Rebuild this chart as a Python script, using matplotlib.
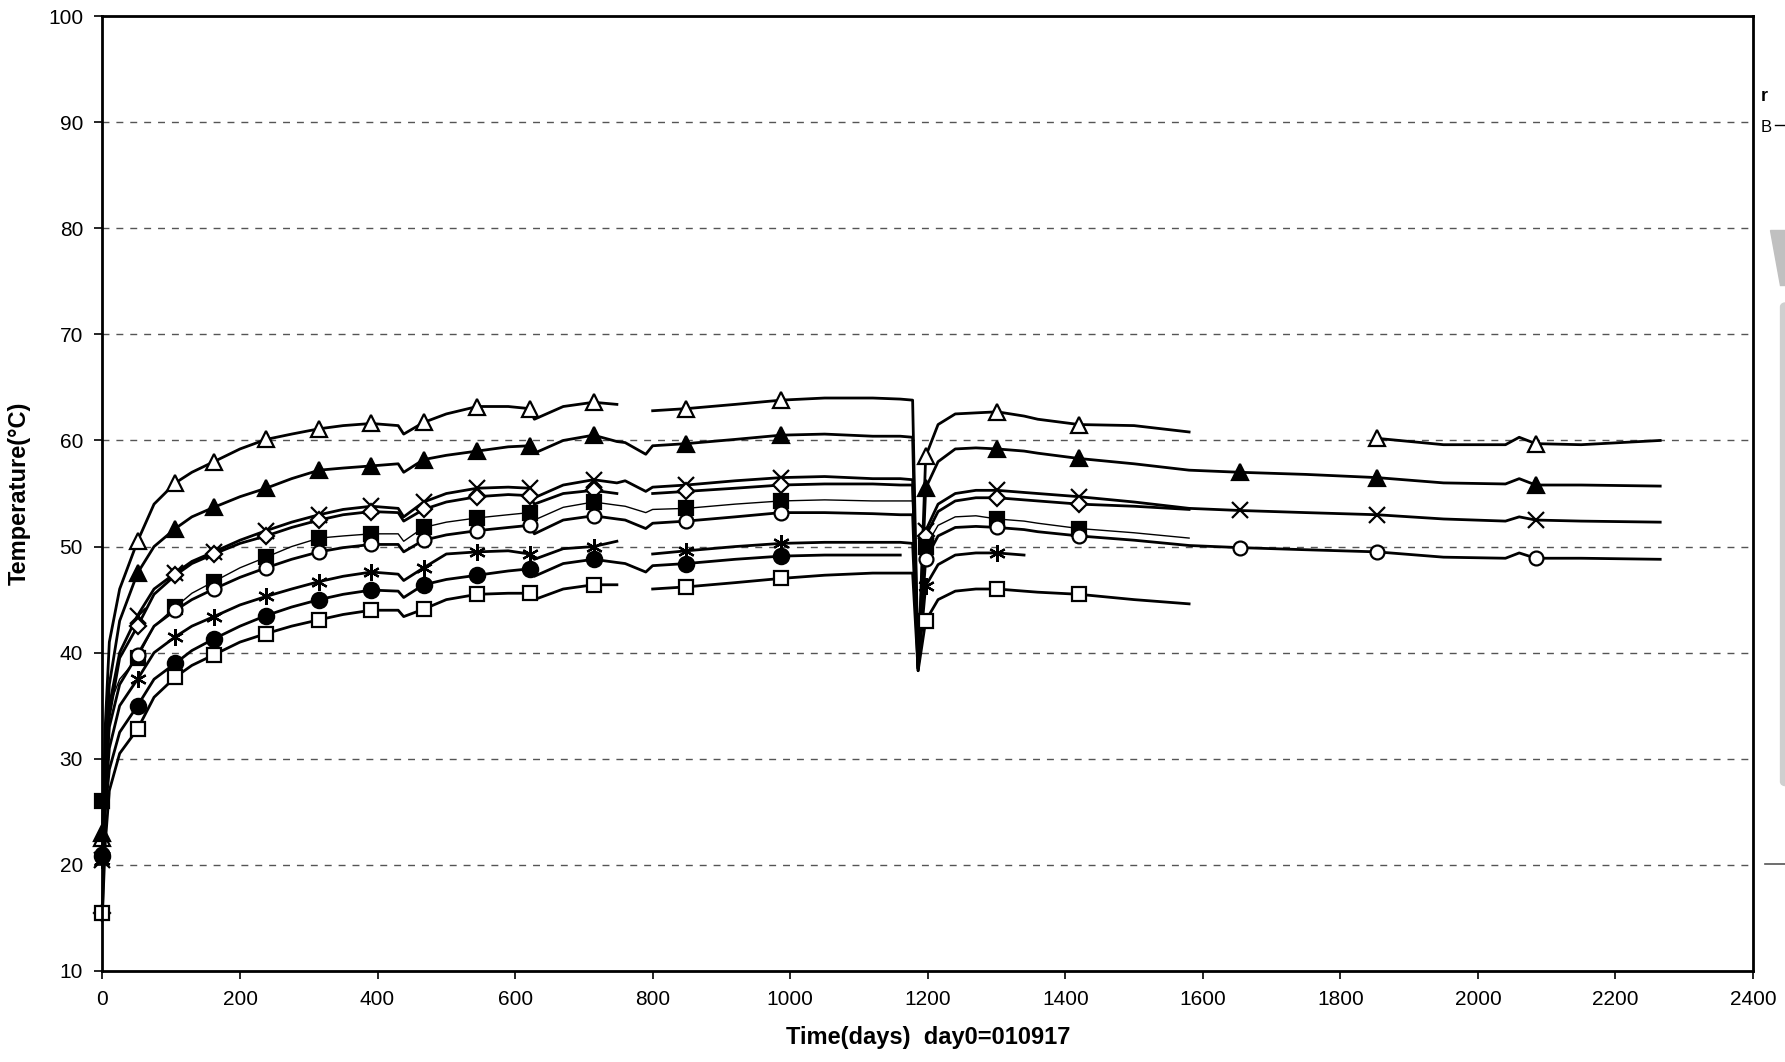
import numpy as np
import matplotlib.pyplot as plt
from matplotlib.patches import Polygon, FancyBboxPatch

nan = np.nan

# sampled days (shared x for every probe) and days where a marker is drawn
days = [0, 4, 10, 25, 51, 75, 106, 130, 162, 200, 238, 275, 315, 350, 391,
        430, 438, 467, 500, 545, 590, 621, 628, 670, 714, 748, 760, 790, 800,
        849, 920, 987, 1050, 1120, 1160, 1178, 1186, 1197, 1215, 1240, 1270,
        1301, 1340, 1360, 1420, 1500, 1580, 1654, 1750, 1853, 1950, 2040,
        2060, 2084, 2150, 2265]
mark_days = [0, 51, 106, 162, 238, 315, 391, 467, 545, 621, 714, 849, 987,
             1197, 1301, 1420, 1654, 1853, 2084]

tri_open = [22.5, 33, 41, 46, 50.5, 54, 56, 57, 58, 59.2, 60.1, 60.6, 61.1,
            61.4, 61.6, 61.4, 60.6, 61.7, 62.5, 63.2, 63.2, 63.0, 62.0, 63.2,
            63.6, 63.4, nan, nan, 62.8, 63.0, 63.4, 63.8, 64.0, 64.0, 63.9,
            63.8, 38.5, 58.5, 61.5, 62.5, 62.6, 62.7, 62.3, 62.0, 61.5, 61.4,
            60.8, nan, nan, 60.2, 59.6, 59.6, 60.3, 59.7, 59.6, 60.0]
tri_fill = [23, 30, 37, 43, 47.5, 50, 51.7, 52.8, 53.7, 54.7, 55.5, 56.4,
            57.2, 57.4, 57.6, 57.8, 57.0, 58.2, 58.6, 59.0, 59.4, 59.5, 58.8,
            60.0, 60.5, 59.9, 59.8, 58.7, 59.5, 59.7, 60.1, 60.5, 60.6, 60.4,
            60.4, 60.3, 38.3, 55.5, 58.0, 59.2, 59.3, 59.2, 59.0, 58.8, 58.3,
            57.8, 57.2, 57.0, 56.8, 56.5, 56.0, 55.9, 56.4, 55.8, 55.8, 55.7]
cross = [20.5, 28, 35, 40, 43.5, 46, 47.5, 48.6, 49.5, 50.6, 51.5, 52.3,
         53.0, 53.5, 53.8, 53.6, 52.8, 54.2, 55.0, 55.5, 55.6, 55.5, 54.6,
         55.8, 56.3, 56.0, 56.2, 55.2, 55.6, 55.8, 56.2, 56.5, 56.6, 56.4,
         56.4, 56.3, 38.5, 51.5, 54.0, 55.0, 55.3, 55.3, 55.1, 55.0, 54.7,
         54.2, 53.6, 53.4, 53.2, 53.0, 52.6, 52.4, 52.8, 52.5, 52.4, 52.3]
diamond = [15.5, 27, 34, 39.5, 42.5, 45.5, 47.3, 48.4, 49.3, 50.3, 51.0,
           51.8, 52.5, 53.0, 53.3, 53.2, 52.4, 53.5, 54.2, 54.7, 54.9, 54.8,
           54.0, 55.0, 55.3, 55.0, nan, nan, 55.0, 55.2, 55.5, 55.8, 55.9,
           55.9, 55.8, 55.8, 38.6, 51.0, 53.3, 54.3, 54.6, 54.6, 54.4, 54.3,
           54.0, 53.8, 53.5, nan, nan, nan, nan, nan, nan, nan, nan, nan]
sq_fill = [26, 30, 35, 37.5, 39.5, 42.5, 44.3, 45.6, 46.7, 48.0, 49.0, 50.0,
           50.8, 51.0, 51.2, 51.2, 50.5, 51.8, 52.3, 52.7, 53.0, 53.2, 52.5,
           53.7, 54.2, 53.9, 53.8, 53.2, 53.5, 53.6, 54.0, 54.3, 54.4, 54.3,
           54.3, 54.3, 38.8, 50.0, 52.0, 52.8, 52.9, 52.6, 52.4, 52.2, 51.7,
           51.3, 50.8, nan, nan, nan, nan, nan, nan, nan, nan, nan]
circ_open = [21, 27, 33, 37, 39.8, 42.5, 44.0, 45.0, 46.0, 47.1, 48.0, 48.8,
             49.5, 49.9, 50.2, 50.2, 49.5, 50.6, 51.1, 51.5, 51.8, 52.0, 51.2,
             52.5, 52.9, 52.6, 52.5, 51.7, 52.2, 52.4, 52.8, 53.2, 53.2, 53.1,
             53.0, 53.0, 38.8, 48.8, 51.0, 51.8, 51.9, 51.8, 51.6, 51.4, 51.0,
             50.6, 50.1, 49.9, 49.7, 49.5, 49.0, 48.9, 49.4, 48.9, 48.9, 48.8]
star = [20.5, 26, 31, 35, 37.5, 40, 41.5, 42.5, 43.4, 44.5, 45.3, 46.0, 46.7,
        47.2, 47.6, 47.4, 46.8, 48.0, 49.3, 49.5, 49.6, 49.3, 48.8, 49.8,
        50.0, 50.5, nan, nan, 49.3, 49.6, 50.0, 50.3, 50.4, 50.4, 50.4, 50.3,
        38.5, 46.3, 48.3, 49.2, 49.4, 49.4, 49.2] + [nan] * 13
circ_fill = [20.8, 25, 29, 32.5, 35.0, 37.5, 39.0, 40.2, 41.3, 42.5, 43.5,
             44.3, 45.0, 45.5, 45.9, 45.8, 45.2, 46.4, 46.9, 47.3, 47.7, 47.9,
             47.2, 48.4, 48.8, 48.5, 48.4, 47.6, 48.2, 48.4, 48.8, 49.1, 49.2,
             49.2, 49.2] + [nan] * 21
sq_open = [15.5, 22, 27, 30.5, 32.8, 35.8, 37.7, 38.8, 39.8, 41.0, 41.8, 42.5,
           43.1, 43.6, 44.0, 44.0, 43.4, 44.1, 45.0, 45.5, 45.6, 45.6, 45.0,
           46.0, 46.4, 46.4, nan, nan, 46.0, 46.2, 46.6, 47.0, 47.3, 47.5,
           47.5, 47.5, 38.3, 43.0, 45.0, 45.8, 46.0, 46.0, 45.8, 45.7, 45.5,
           45.0, 44.6, nan, nan, nan, nan, nan, nan, nan, nan, nan]

# (values, marker, filled, marker size, line width)
series = [
    (tri_open, "^", False, 11, 2.0),
    (tri_fill, "^", True, 11, 2.0),
    (cross, "x", False, 11, 2.0),
    (diamond, "D", False, 8, 2.0),
    (sq_fill, "s", True, 10, 1.0),
    (circ_open, "o", False, 10, 2.0),
    (star, (6, 2, 0), False, 12, 2.0),
    (circ_fill, "o", True, 11, 2.0),
    (sq_open, "s", False, 10, 2.0),
]

plt.rcParams["font.family"] = ["Liberation Sans", "DejaVu Sans"]

fig = plt.figure(figsize=(17.85, 10.62), dpi=100)
ax = fig.add_axes([0.0574, 0.0857, 0.9247, 0.8992])

x = np.array(days)
for vals, mk, filled, ms, lw in series:
    y = np.array(vals, dtype=float)
    idx = [i for i, d in enumerate(days) if d in mark_days and not np.isnan(y[i])]
    ax.plot(x, y, color="black", lw=lw, marker=mk, markevery=idx,
            markersize=ms, markeredgewidth=1.6, markeredgecolor="black",
            markerfacecolor="black" if filled else "white", zorder=3,
            clip_on=False)

ax.set_xlim(0, 2400)
ax.set_ylim(10, 100)
ax.set_xticks(range(0, 2401, 200))
ax.set_yticks(range(10, 101, 10))
for yv in range(20, 100, 10):
    ax.axhline(yv, color="#555555", lw=1.0, ls=(0, (5, 5)), zorder=1)

for s in ax.spines.values():
    s.set_linewidth(2.0)
    s.set_color("black")
    s.set_zorder(4)
ax.tick_params(direction="out", length=6, width=1.2, labelsize=15, pad=8)

ax.set_xlabel("Time(days)  day0=010917", fontsize=17, fontweight="bold",
              labelpad=12)
ax.set_ylabel("Temperature(\u00b0C)", fontsize=17, fontweight="bold",
              labelpad=12)

# clipped legend fragment at the right edge
fig.text(0.9865, 0.905, "r", fontsize=13, fontweight="bold")
fig.text(0.9865, 0.876, "B", fontsize=12)
fig.add_artist(plt.Line2D([0.9945, 1.0], [0.8825, 0.8825], color="black",
                          lw=1.0, transform=fig.transFigure))
fig.add_artist(plt.Line2D([0.989, 1.0], [0.186, 0.186], color="#555555",
                          lw=1.2, transform=fig.transFigure))
fig.add_artist(Polygon([[0.9915, 0.783], [1.0, 0.783], [1.0, 0.732],
                        [0.9970, 0.732]], closed=True, color="#c0c0c0",
                       transform=fig.transFigure))
fig.add_artist(FancyBboxPatch((0.9975, 0.26), 0.01, 0.455,
                              boxstyle="round,pad=0,rounding_size=0.004",
                              color="#cfcfcf", transform=fig.transFigure))

fig.savefig("out.png", dpi=100, facecolor="white")
